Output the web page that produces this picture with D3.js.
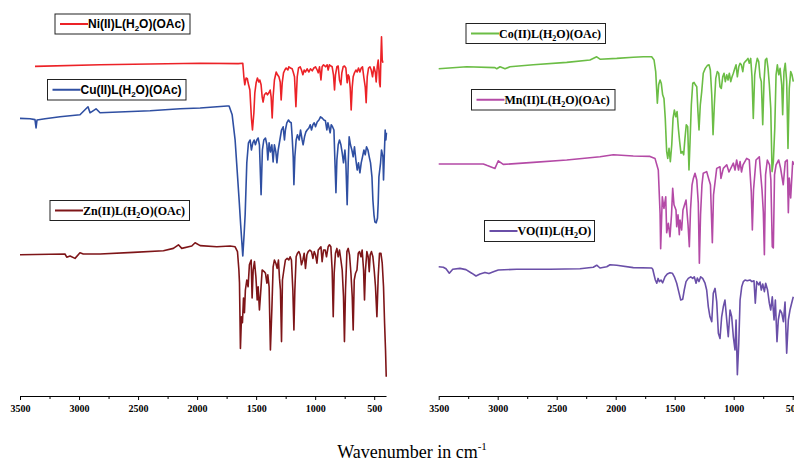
<!DOCTYPE html>
<html>
<head>
<meta charset="utf-8">
<script src="https://cdn.jsdelivr.net/npm/d3@7/dist/d3.min.js"></script>
<style>
  html, body { margin: 0; padding: 0; background: #fff; }
  svg { display: block; }
</style>
</head>
<body>
<svg id="chart" width="794" height="461"></svg>
<script>
// FT-IR spectra of the metal complexes: [wavenumber (cm-1), transmittance (a.u., stacked)]
const niSpectrum = [[3373,83.4],[2822,83.8],[2398,84],[1974,84.2],[1652,84.1],[1613,84.2],[1604,80.8],[1596,78.8],[1585,80.5],[1574,80.3],[1568,79.3],[1553,77.5],[1540,70.5],[1531,67.5],[1519,71.8],[1511,76.8],[1500,79.3],[1489,80.5],[1477,79.5],[1469,80],[1458,78.8],[1449,75.8],[1441,74.5],[1430,76.3],[1415,76.8],[1404,76.3],[1392,76.8],[1381,77.5],[1373,75.8],[1364,70.5],[1356,75.8],[1345,80],[1330,82],[1319,81.3],[1307,80.8],[1296,79.5],[1288,75],[1279,79.3],[1268,81.8],[1257,82.5],[1246,83],[1231,82.5],[1223,83.3],[1209,83],[1195,82.8],[1186,82],[1175,80.8],[1163,73.3],[1152,80.8],[1141,83],[1127,83.3],[1116,82.5],[1104,81.3],[1093,82.5],[1082,82],[1068,82.8],[1053,82],[1040,82.8],[1025,82.3],[1011,83],[997,83.3],[983,82.5],[974,81.8],[963,83.3],[951,80],[941,83.3],[929,83.8],[912,83.3],[898,83.8],[890,82.5],[879,83.8],[867,83.5],[856,83.3],[845,81.3],[836,77.5],[828,81.3],[816,83.3],[805,83.5],[794,80],[782,78.8],[774,81.8],[763,83.3],[752,83.5],[740,83],[729,79.3],[720,81.3],[712,80.8],[703,78],[695,72.5],[686,78.3],[678,80.8],[667,81.8],[655,82.5],[644,82],[633,83],[621,82],[610,83],[599,83.3],[587,80.5],[576,78.3],[568,74.3],[559,80.8],[548,83],[536,83.3],[525,82.5],[514,80.8],[502,83.3],[491,82],[483,79.5],[474,83.3],[466,85],[460,82.5],[455,79.3],[449,78.3],[443,85.8],[438,90.8],[432,85],[426,84.3]];

const cuSpectrum = [[3500,70.4],[3415,70.3],[3373,70.1],[3364,68],[3356,70],[3288,70.3],[3161,70.8],[2992,71.3],[2924,73.3],[2907,71.8],[2856,72.8],[2822,71.8],[2398,72.3],[2144,72.8],[1974,73],[1746,73.5],[1729,73.5],[1703,71.3],[1678,65],[1661,57.5],[1644,50],[1631,43.8],[1613,36],[1602,41.3],[1593,46.3],[1579,59.3],[1565,64.3],[1551,65],[1540,62.5],[1528,64.3],[1517,65],[1506,63.8],[1494,65],[1483,65.5],[1472,63.8],[1458,51.3],[1447,62.5],[1435,65],[1421,65.5],[1409,63.8],[1401,60],[1390,64.3],[1379,62],[1367,63.8],[1356,59.5],[1345,63.8],[1333,62],[1324,59.3],[1313,62.5],[1299,65],[1285,67.5],[1271,68.3],[1260,65],[1252,67.5],[1240,69.3],[1226,70],[1214,69.5],[1203,69.3],[1195,65.8],[1186,60.8],[1180,53.8],[1172,60.8],[1161,65],[1150,66.3],[1135,65],[1124,67.5],[1110,65],[1102,63.8],[1090,65.8],[1079,67],[1068,67.5],[1053,68],[1042,68.8],[1031,67.5],[1019,68.8],[1008,69.3],[997,68.3],[983,69.5],[968,70],[955,70.8],[941,70.5],[926,70],[913,69.8],[901,67.5],[892,69.3],[884,68.3],[873,66.8],[864,68.8],[853,68.3],[841,67.5],[833,60],[824,51.8],[816,60],[805,63.8],[794,65],[782,63.8],[771,61.8],[760,59.3],[748,62.5],[740,59.3],[729,48.8],[720,59.3],[712,65.8],[701,63.8],[689,62.5],[678,60.8],[667,63.3],[655,60],[644,57.5],[633,59.3],[621,56.8],[610,59.3],[599,60.8],[587,62.5],[576,61.3],[565,63.3],[553,62.5],[542,60.8],[531,59.3],[519,55.8],[511,50],[502,46.3],[494,44.5],[483,44.3],[472,45.5],[466,49.3],[460,55.8],[446,59.3],[438,62.5],[426,60.8],[421,55],[412,63.3],[407,67.5],[401,65],[396,66.8]];

const znSpectrum = [[3500,36.3],[3119,36.5],[3104,35.7],[3076,36],[3034,35.4],[2992,36.8],[2964,36.5],[2822,36.5],[2540,36.9],[2285,37.3],[2201,37.9],[2158,38.8],[2130,37.9],[2045,38.5],[2017,39.3],[1974,38.6],[1833,38.3],[1720,38.5],[1678,38.3],[1658,37.1],[1646,32.5],[1641,29.3],[1633,12.9],[1624,20.8],[1616,19.3],[1607,25.5],[1599,21.8],[1591,27.5],[1579,30],[1568,28.3],[1557,33.8],[1542,35],[1534,25.5],[1525,32.5],[1514,34.6],[1502,30.8],[1491,25],[1483,28.3],[1472,22.5],[1460,27.5],[1449,32.5],[1432,32.1],[1421,31.7],[1409,29.2],[1401,31.3],[1390,28.3],[1379,12.5],[1367,22.5],[1356,33.3],[1345,35],[1333,34.2],[1322,32.9],[1311,35],[1302,30.4],[1294,27.5],[1285,14.6],[1277,30],[1265,32.5],[1252,35],[1237,35.4],[1223,35],[1212,35.8],[1201,35],[1189,27.5],[1180,17.5],[1172,27.5],[1161,35.8],[1150,36.7],[1138,37.1],[1127,36.3],[1116,33.8],[1104,35],[1093,36.7],[1082,32.9],[1070,36.3],[1059,37.1],[1045,37.5],[1031,37.1],[1019,35.4],[1008,37.1],[997,36.3],[985,34.2],[974,37.5],[963,37.9],[951,38.3],[941,34.6],[929,37.5],[915,37.5],[904,35.8],[890,38.3],[879,38.8],[867,38.3],[856,32.5],[847,20.8],[839,31.7],[828,36.7],[816,37.9],[805,35.8],[794,37.5],[782,35],[771,32.5],[760,25.8],[752,14.6],[743,27.5],[731,37.1],[720,37.9],[709,36.3],[697,31.7],[686,25.8],[678,17.5],[669,30],[658,31.7],[646,32.5],[635,36.7],[624,37.1],[612,35.8],[602,37.5],[590,32.5],[582,25],[574,32.5],[562,37.1],[551,35.8],[542,32.1],[534,36.3],[523,37.1],[511,35.8],[500,32.5],[489,28.3],[477,20.8],[466,30.8],[455,36.7],[443,36.7],[432,34.2],[421,28.3],[412,19.2],[404,12.5],[398,5.8]];

const coSpectrum = [[3500,82.8],[3263,83.3],[3023,83.1],[3008,82.8],[2980,83.3],[2938,82.8],[2896,83.3],[2698,83.8],[2415,84.4],[2218,85],[2161,85.8],[2133,85.2],[1991,85.4],[1851,85.7],[1766,85.8],[1695,85.8],[1675,85],[1661,82.1],[1647,74.2],[1636,78.8],[1624,80],[1614,79.2],[1602,76.3],[1591,75.4],[1580,70.4],[1568,62.1],[1559,60.4],[1548,62.9],[1537,59.6],[1525,63.8],[1514,70.4],[1503,72.5],[1491,70.8],[1480,72.1],[1469,67.9],[1458,64.6],[1447,61.7],[1435,62.1],[1424,61.3],[1413,65.4],[1402,68.8],[1390,68.3],[1379,57.5],[1370,64.6],[1359,73.8],[1347,79.2],[1336,79.4],[1325,78.8],[1313,78.3],[1303,72.1],[1294,67.5],[1283,73.8],[1271,77.1],[1258,81.7],[1241,82.9],[1224,83.6],[1209,83.8],[1198,82.5],[1186,76.3],[1175,66.3],[1164,73.8],[1152,80.4],[1139,82.1],[1127,81.7],[1116,78.3],[1105,77.9],[1093,80.8],[1082,81.7],[1071,79.6],[1059,81.3],[1048,80],[1037,81.7],[1025,79.6],[1014,80.8],[1003,81.7],[991,82.9],[980,83.8],[969,80.8],[957,83.3],[946,84.2],[935,83.8],[923,82.1],[913,84.2],[902,84.6],[890,85],[879,85.4],[868,84.2],[856,85.4],[845,80.8],[834,70.4],[822,81.3],[811,83.8],[800,85.4],[788,84.6],[777,80.8],[766,79.6],[754,68.8],[743,79.6],[732,85],[720,85.4],[709,82.9],[698,78.8],[686,72.9],[675,57.1],[664,59.6],[652,67.9],[641,81.3],[630,83.8],[618,81.3],[607,82.9],[593,78.8],[585,71.3],[574,82.1],[563,84.2],[551,79.6],[540,62.9],[529,77.9],[517,82.1],[506,81.3],[495,79.6]];

const mnSpectrum = [[3500,59],[3122,59],[3088,58.6],[3023,57.9],[2995,59.8],[2953,58.9],[2698,59.4],[2415,60],[2133,60.8],[2020,61.3],[1851,61],[1709,60.9],[1667,60.4],[1639,57.5],[1624,46.7],[1619,37.8],[1605,50.8],[1591,47.9],[1576,50.8],[1568,41.8],[1554,44.2],[1540,40.8],[1527,46.3],[1517,52.9],[1506,48.8],[1489,47.5],[1483,43.3],[1472,46.3],[1461,41.3],[1455,45],[1441,42.5],[1430,47.5],[1404,50],[1387,43.8],[1376,38.3],[1366,47.5],[1353,53.8],[1342,55.4],[1328,56.7],[1313,55],[1300,49.2],[1291,34.2],[1281,46.3],[1269,53.8],[1258,56.7],[1229,57.1],[1209,55],[1197,53.8],[1181,39.3],[1171,51.3],[1144,57.9],[1116,58.3],[1108,55.4],[1088,57.9],[1059,58.8],[1040,57],[1003,59.2],[989,57.5],[975,60],[959,57.5],[946,59.6],[934,57],[921,58.8],[890,60.4],[868,60],[851,52],[842,42.5],[832,52.5],[811,60],[783,60.8],[771,56.3],[760,52.5],[749,47],[740,36.3],[730,56.3],[715,60],[696,58.8],[685,55],[673,38.3],[664,38],[654,56.3],[641,58.8],[619,60],[603,58],[580,53.8],[563,59.6],[546,60],[537,46.8],[529,55.5],[517,50.5],[500,59.6],[489,58.8]];

const voSpectrum = [[3500,33.3],[3461,33.2],[3438,32.8],[3410,31.7],[3381,32.7],[3320,32.9],[3269,32.6],[3220,31.7],[3184,31],[3150,31.5],[3108,31.9],[3074,31.6],[3031,32.1],[2995,32.5],[2839,32.7],[2557,32.7],[2303,32.8],[2190,33.2],[2161,33.7],[2133,33],[2076,33.3],[2048,33.8],[1991,33.7],[1851,33.1],[1695,33],[1686,32.7],[1675,31.3],[1664,30],[1652,29.2],[1641,30.4],[1630,29.6],[1616,30],[1602,29.3],[1582,30.8],[1563,31.5],[1540,31.8],[1520,31.7],[1503,30.8],[1483,29.2],[1466,27.1],[1449,25],[1432,25.2],[1419,27.5],[1404,29.6],[1385,30.4],[1364,30.8],[1347,30.4],[1334,30.8],[1319,29.2],[1308,30.5],[1294,29.6],[1280,30.8],[1263,30.4],[1243,29.2],[1229,27.5],[1215,23.3],[1201,20.8],[1186,19.6],[1173,26.7],[1158,27.9],[1144,24.6],[1130,16.7],[1116,15.4],[1102,20.8],[1088,23.3],[1074,25],[1059,20],[1046,15.8],[1031,22.5],[1017,20.8],[1003,15.8],[989,12.5],[980,20],[969,6.3],[957,14.2],[946,25],[932,28.3],[918,29.6],[904,30],[885,29.8],[862,30],[845,29.6],[828,29.8],[817,24.2],[805,29.6],[788,28.8],[777,29.5],[766,27.5],[754,29],[740,27.1],[729,29.2],[713,27.5],[698,24.2],[686,22.5],[673,25.8],[658,20],[647,25],[633,14.6],[622,20],[607,22.5],[593,21.8],[579,19.6],[565,24.5],[551,11.7],[537,20],[523,22.5],[508,24.3],[495,25.8]];

// Axis ticks (cm-1)
const majorTicks = [3500, 3000, 2500, 2000, 1500, 1000, 500];
const minorTicks = [3250, 2750, 2250, 1750, 1250, 750];
const axisTitle = "Wavenumber in cm";
const axisTitleSup = "-1";

// Legend labels: [main, subscript, rest]
const series = [
  { label: ["Ni(II)L(H", "2", "O)(OAc)"], color: "#ec2227", data: niSpectrum, panel: 0, font: "sans",
    box: { x: 55, y: 14, w: 135, h: 20 } },
  { label: ["Cu(II)L(H", "2", "O)(OAc)"], color: "#2f4fa2", data: cuSpectrum, panel: 0, font: "sans",
    box: { x: 47.5, y: 79.5, w: 138.5, h: 20.5 } },
  { label: ["Zn(II)L(H", "2", "O)(OAc)"], color: "#7e1518", data: znSpectrum, panel: 0, font: "serif",
    box: { x: 50, y: 200.5, w: 139.5, h: 20 } },
  { label: ["Co(II)L(H", "2", "O)(OAc)"], color: "#6bbd45", data: coSpectrum, panel: 1, font: "serif",
    box: { x: 466, y: 23.5, w: 139.5, h: 20 } },
  { label: ["Mn(II)L(H", "2", "O)(OAc)"], color: "#b44aa6", data: mnSpectrum, panel: 1, font: "serif",
    box: { x: 471.5, y: 89.5, w: 143.5, h: 20.5 } },
  { label: ["VO(II)L(H", "2", "O)"], color: "#6a4fa8", data: voSpectrum, panel: 1, font: "serif",
    box: { x: 484.5, y: 220.5, w: 110, h: 21 } }
];

const fonts = {
  sans: "'Liberation Sans', Arial, sans-serif",
  serif: "'Liberation Serif', 'Times New Roman', serif"
};

const svg = d3.select("#chart");

const panels = [
  d3.scaleLinear().domain([3500, 400]).range([20, 386]),
  d3.scaleLinear().domain([3500, 400]).range([438.7, 804.5])
];
const y = d3.scaleLinear().domain([0, 100]).range([400, 0]);
const axisY = 396;

// axes
panels.forEach(x => {
  const g = svg.append("g").attr("transform", `translate(0,${axisY})`);
  g.call(d3.axisBottom(x).tickValues(majorTicks).tickSize(4).tickSizeOuter(0).tickPadding(5)
    .tickFormat(d3.format("d")));
  g.select(".domain").attr("stroke", "#000").attr("stroke-width", 1.2);
  g.selectAll(".tick line").attr("stroke", "#000").attr("stroke-width", 1);
  g.selectAll(".tick text")
    .attr("font-family", fonts.serif).attr("font-weight", "bold").attr("font-size", 10).attr("fill", "#000");

  const gm = svg.append("g").attr("transform", `translate(0,${axisY})`);
  gm.call(d3.axisBottom(x).tickValues(minorTicks).tickSize(3).tickSizeOuter(0).tickFormat(""));
  gm.select(".domain").remove();
  gm.selectAll(".tick line").attr("stroke", "#000").attr("stroke-width", 1);
});

// spectra
series.forEach(s => {
  const x = panels[s.panel];
  const line = d3.line().x(d => x(d[0])).y(d => y(d[1]));
  svg.append("path")
    .datum(s.data)
    .attr("d", line)
    .attr("fill", "none")
    .attr("stroke", s.color)
    .attr("stroke-width", 1.6)
    .attr("stroke-linejoin", "round");
});

// legends
series.forEach(s => {
  const b = s.box;
  const g = svg.append("g");
  g.append("rect")
    .attr("x", b.x).attr("y", b.y).attr("width", b.w).attr("height", b.h)
    .attr("fill", "#fff").attr("stroke", "#222").attr("stroke-width", 1);
  const mid = b.y + b.h / 2;
  g.append("line")
    .attr("x1", b.x + 5).attr("x2", b.x + 33)
    .attr("y1", mid).attr("y2", mid)
    .attr("stroke", s.color).attr("stroke-width", 2);
  const t = g.append("text")
    .attr("x", b.x + 33).attr("y", mid + 4.3)
    .attr("font-family", fonts[s.font]).attr("font-weight", "bold").attr("font-size", 12)
    .attr("fill", "#000");
  t.append("tspan").text(s.label[0]);
  t.append("tspan").text(s.label[1]).attr("font-size", 8).attr("dy", 3);
  t.append("tspan").text(s.label[2]).attr("dy", -3);
});

// x-axis title
const title = svg.append("text")
  .attr("x", 412).attr("y", 458)
  .attr("text-anchor", "middle")
  .attr("font-family", fonts.serif).attr("font-size", 18).attr("fill", "#000");
title.append("tspan").text(axisTitle);
title.append("tspan").text(axisTitleSup).attr("font-size", 11).attr("dy", -8);
</script>
</body>
</html>
